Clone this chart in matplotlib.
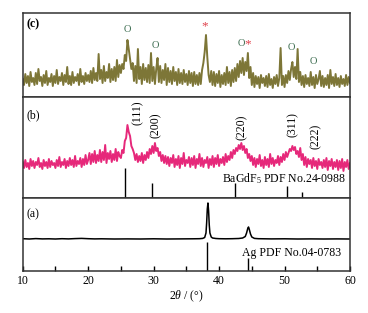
import numpy as np
import matplotlib
matplotlib.use("Agg")
import matplotlib.pyplot as plt

plt.rcParams['font.family'] = ['Liberation Serif', 'DejaVu Serif']
plt.rcParams['mathtext.fontset'] = 'custom'
plt.rcParams['mathtext.rm'] = 'Liberation Serif'
plt.rcParams['mathtext.it'] = 'Liberation Serif:italic'

# 2theta grid for the two noisy scans (0.2 deg step, 10..60)
two_theta = np.linspace(10, 60, 251)

# (c) olive scan, intensity a.u.
c_int = [18, 12, 23, 14, 21, 11, 25, 15, 19, 12, 24, 13, 28, 16, 20, 11, 22, 14, 26, 12,
         19, 15, 23, 11, 21, 14, 27, 13, 20, 16, 24, 12, 22, 15, 30, 13, 21, 12, 25, 14,
         20, 16, 23, 12, 28, 15, 21, 13, 24, 16,
         22, 15, 26, 14, 29, 17, 24, 16, 43, 18, 27, 14, 31, 16, 25, 19, 33, 15, 28, 17,
         30, 16, 37, 20, 32,
         24, 33, 28, 42, 36, 57, 48, 38, 28, 34,
         16, 31, 14, 48, 18, 30, 13, 33, 17, 29, 15, 32, 14, 44, 16, 30, 13, 28, 39, 15,
         31, 14, 27, 17, 33, 12, 29, 15, 26, 13, 30, 16, 25, 12, 28, 14, 24, 13, 27, 15,
         23, 12, 26, 14, 24, 11, 25, 13, 22, 12,
         24, 13, 27, 34, 45, 62, 40, 22, 15, 26,
         12, 25, 11, 23, 14, 26, 10, 22, 13, 24, 12, 30, 14, 25, 11, 27, 15, 29, 16, 33,
         20, 36, 24, 39, 22, 35, 26, 44, 19, 30,
         12, 24, 10, 21, 13, 20, 9, 22, 14, 19, 11, 21, 10, 23, 12, 18, 9, 20, 13, 22,
         11, 19, 49, 12, 21, 10, 22, 14, 26, 17, 28, 35, 20, 30, 18, 48, 15, 25, 12, 21,
         10, 22, 13, 19, 11, 25, 12, 20, 9, 22, 13, 18, 26, 11, 21, 10, 19, 12, 22, 9,
         27, 13, 20, 11, 23, 12, 19, 10, 21, 13, 18, 11, 22, 12, 20, 14]

# (b) magenta scan
b_int = [36, 30, 38, 31, 35, 29, 39, 32, 37, 30, 36, 33, 40, 31, 35, 29, 38, 32, 36, 30,
         39, 31, 37, 33, 35, 30, 38, 32, 41, 31, 36, 33, 39, 30, 37, 32, 40, 33, 38, 31,
         42, 32, 37, 34, 40, 31, 39, 33, 43, 34,
         38, 45, 34, 44, 36, 47, 35, 43, 37, 48, 36, 46, 38, 53, 35, 45, 39, 47, 36, 44,
         38, 49, 37, 46, 42,
         40, 48, 45, 57, 60, 73, 66, 62, 52, 49,
         45, 38, 44, 36, 42, 37, 45, 35, 43, 38, 46, 40, 49, 44, 52, 45, 55, 47, 50, 42,
         46, 37, 43, 35, 42,
         34, 41, 32, 40, 35, 43, 31, 39, 33, 42, 30, 40, 34, 45, 32, 38, 35, 41, 31, 40,
         33, 42, 30, 39, 34, 44, 32, 40, 31, 38, 35, 41, 30, 39, 33, 42, 31, 40, 34, 43,
         32, 39, 35, 41, 33, 44, 36, 42, 38, 46,
         40, 48, 44, 50, 47, 53, 49, 55, 48, 52, 45, 49, 40, 44, 37,
         42, 33, 40, 31, 39, 34, 43, 32, 38, 30, 41, 33, 39, 31, 44, 34, 40, 32, 38, 35,
         42, 33, 41, 36, 44, 38, 46, 41,
         45, 49, 47, 52, 48, 51, 44, 47, 41, 50, 38, 44,
         33, 41, 31, 39, 34, 38, 30, 40, 32, 37, 29, 39, 33, 36, 30, 38, 31, 40, 28, 37,
         32, 39, 29, 36, 31, 38, 28, 37, 30, 39, 27, 36, 31, 38, 29, 35]

# (a) black scan
a_x = [10, 11, 12, 13, 14, 15, 16, 17, 18, 19, 20, 21, 22, 24, 26, 28, 30, 32, 34, 36,
       37, 37.5, 37.8, 38.0, 38.1, 38.2, 38.3, 38.4, 38.5, 38.6, 38.8, 39.0, 39.5, 40,
       41, 42, 43, 43.6, 44.0, 44.2, 44.4, 44.5, 44.6, 44.8, 45.0, 45.4, 46, 48, 50,
       52, 54, 56, 58, 60]
a_y = [32.3, 32.0, 32.4, 32.1, 32.2, 32.0, 32.3, 32.1, 32.4, 32.6, 32.3, 32.1, 32.2, 32.0, 32.1,
       32.0, 32.2, 32.0, 32.1, 32.2,
       32.3, 32.6, 33.5, 38, 48, 62, 68, 60, 46, 38, 34, 33, 32.5, 32.3,
       32.2, 32.3, 32.5, 33.0, 34.5, 38, 43, 44, 42, 37, 34, 32.6, 32.3, 32.1, 32.2,
       32.0, 32.1, 32.0, 32.1, 32.0]

# reference sticks
bagdf_pos = [25.7, 29.7, 42.5, 50.4, 52.7]
bagdf_h = [30, 15, 15, 12, 6]
ag_pos = [38.2, 44.4]
ag_h = [29, 13]

hkl_labels = ['(111)', '(200)', '(220)', '(311)', '(222)']
hkl_x = [27.6, 30.4, 43.5, 51.3, 54.7]
hkl_y = [85, 73, 71, 73, 62]

circle_x = [26.0, 30.3, 43.4, 51.1, 54.4]
circle_y = [67, 51, 54, 49, 35]
star_x = [37.8, 44.4]
star_y = [71, 53]

W, H = 368, 313
fig = plt.figure(figsize=(W / 100, H / 100), dpi=100)

left, right = 22.7 / W, 350 / W
def panel(top_px, bot_px):
    return fig.add_axes([left, 1 - bot_px / H, right - left, (bot_px - top_px) / H])

ax_c = panel(13, 97)
ax_b = panel(97, 198)
ax_a = panel(198, 271)

for ax in (ax_c, ax_b, ax_a):
    ax.set_xlim(10, 60)
    ax.set_yticks([])
    for s in ax.spines.values():
        s.set_linewidth(1.1)
        s.set_color('#333333')
    ax.tick_params(axis='x', which='both', bottom=False, labelbottom=False)

ax_c.set_ylim(0, 84)
ax_b.set_ylim(0, 101)
ax_a.set_ylim(0, 73)

fs = 8.5

# (c)
ax_c.plot(two_theta, c_int, color='#7d7637', lw=1.4)
ax_c.text(0.013, 0.87, '(c)', transform=ax_c.transAxes, fontsize=fs,
          ha='left', va='center', fontweight='bold')
for x, y in zip(circle_x, circle_y):
    ax_c.text(x, y, 'O', color='#3a6b4e', fontsize=7.5, ha='center', va='center')
for x, y in zip(star_x, star_y):
    ax_c.text(x, y, '*', color='#e0404a', fontsize=9.5, ha='center', va='center')

# (b)
ax_b.plot(two_theta, b_int, color='#e6287a', lw=1.4)
ax_b.vlines(bagdf_pos, 0, bagdf_h, color='black', lw=1.0)
ax_b.text(0.013, 0.82, '(b)', transform=ax_b.transAxes, fontsize=fs,
          ha='left', va='center')
for lab, x, y in zip(hkl_labels, hkl_x, hkl_y):
    ax_b.text(x, y, lab, rotation=90, fontsize=fs, ha='center', va='center')
ax_b.text(40.5, 19, 'BaGdF$_5$ PDF No.24-0988', fontsize=fs, ha='left', va='center')

# (a)
ax_a.plot(a_x, a_y, color='black', lw=1.1)
ax_a.vlines(ag_pos, 0, ag_h, color='black', lw=1.0)
ax_a.text(0.013, 0.77, '(a)', transform=ax_a.transAxes, fontsize=fs,
          ha='left', va='center')
ax_a.text(43.5, 18, 'Ag PDF No.04-0783', fontsize=fs, ha='left', va='center')

ax_a.set_xticks([10, 20, 30, 40, 50, 60])
ax_a.set_xticks([15, 25, 35, 45, 55], minor=True)
ax_a.tick_params(axis='x', which='both', bottom=True, labelbottom=True,
                 direction='in', length=3.5, width=1.0, labelsize=fs, pad=3)
ax_a.set_xlabel('2$\\theta$ / (°)', fontsize=fs, labelpad=1)

fig.savefig('out.png', dpi=100)
